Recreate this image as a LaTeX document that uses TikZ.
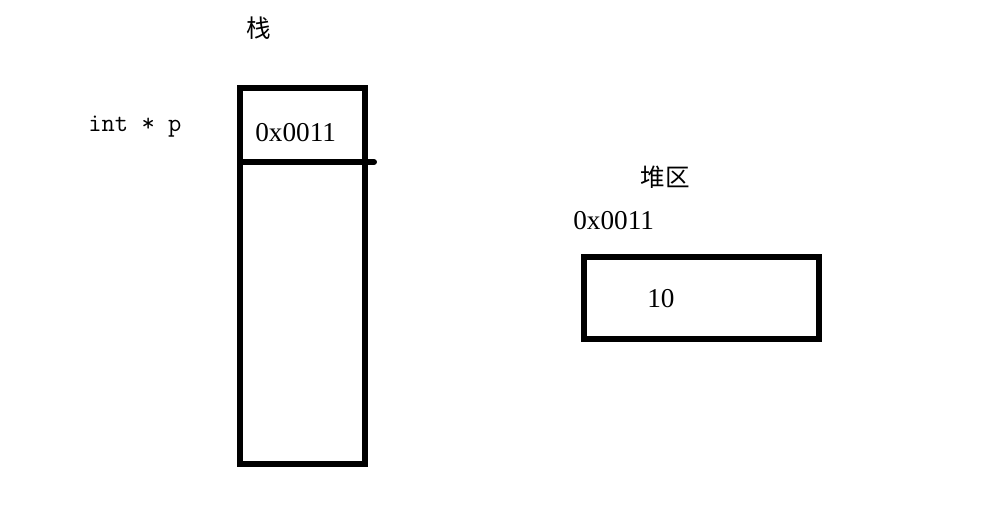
\documentclass[tikz,border=0pt]{standalone}
\usepackage{fontspec}
\setmainfont{Liberation Serif}
\setmonofont{Latin Modern Mono}
\newfontfamily\cjk{Noto Sans CJK SC}
\tikzset{
  cell/.style={line width=3.4pt},
  label/.style={inner sep=0pt,anchor=base west},
}

\begin{document}
\begin{tikzpicture}[x=0.02cm,y=-0.02cm]
\useasboundingbox (0,0) rectangle (1004,530);
% stack
\node[inner sep=0pt] (stacktitle) at (259,28) {\cjk\fontsize{14pt}{16pt}\selectfont 栈};
\node[label] (var) at (88,132) {\ttfamily\fontsize{14.7pt}{17pt}\selectfont int * p};
\draw[cell] (240,88) rectangle (365,464);
\draw[cell,line cap=round] (240,162) -- (374,162);
\node[label] (ptr) at (255,142) {\fontsize{15.5pt}{18pt}\selectfont 0x0011};
% heap
\node[inner sep=0pt] (heaptitle) at (665,177) {\cjk\fontsize{14pt}{16pt}\selectfont 堆区};
\node[label] (addr) at (573,230) {\fontsize{15.5pt}{18pt}\selectfont 0x0011};
\draw[cell,line width=3.9pt] (584,257) rectangle (819,339);
\node[label] (val) at (647,307) {\fontsize{15.5pt}{18pt}\selectfont 10};
\end{tikzpicture}
\end{document}
